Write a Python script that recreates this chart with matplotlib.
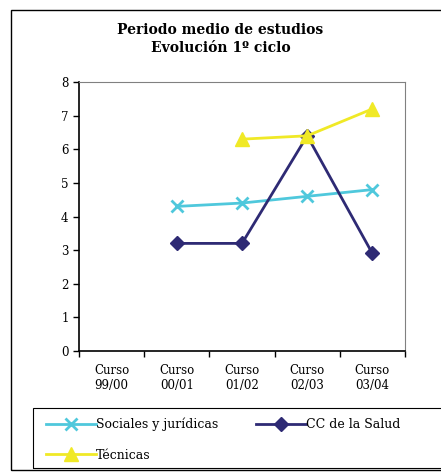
import matplotlib.pyplot as plt
import numpy as np
from matplotlib.patches import Rectangle

plt.rcParams['font.family'] = 'DejaVu Serif'
plt.rcParams['font.size'] = 8.5

categories = ['Curso\n99/00', 'Curso\n00/01', 'Curso\n01/02', 'Curso\n02/03', 'Curso\n03/04']
sociales = [np.nan, 4.3, 4.4, 4.6, 4.8]
salud = [np.nan, 3.2, 3.2, 6.4, 2.9]
tecnicas = [np.nan, np.nan, 6.3, 6.4, 7.2]

fig = plt.figure(figsize=(4.41, 4.74), dpi=100)
# outer chart border
fig.patches.append(Rectangle((11/441, 4/474), 1.2, 1 - 14/474, transform=fig.transFigure,
                             fill=False, edgecolor='black', linewidth=1.0))
# legend border
fig.patches.append(Rectangle((33/441, 6/474), 1.2, 60/474, transform=fig.transFigure,
                             fill=False, edgecolor='black', linewidth=0.8))

ax = fig.add_axes([79/441, 1 - 351/474, 326/441, 269/474])
x = np.arange(len(categories))
l1, = ax.plot(x, sociales, color='#4FC8DC', marker='x', markersize=8, markeredgewidth=2, linewidth=2, label='Sociales y jurídicas')
l2, = ax.plot(x, salud, color='#2E2A74', marker='D', markersize=7, linewidth=2, label='CC de la Salud')
l3, = ax.plot(x, tecnicas, color='#F0E926', marker='^', markersize=10, linewidth=2, label='Técnicas')

ax.set_xlim(-0.5, 4.5)
ax.set_ylim(0, 8)
ax.set_yticks(range(0, 9))
ax.set_xticks(np.arange(-0.5, 5, 1))
ax.set_xticklabels([])
ax.set_xticks(x, minor=True)
ax.set_xticklabels(categories, minor=True)
ax.tick_params(axis='x', which='minor', length=0, pad=9)
ax.tick_params(axis='both', which='major', direction='out', length=4, width=1)
ax.spines['left'].set_linewidth(1.2)
ax.spines['bottom'].set_linewidth(1.2)
ax.spines['top'].set_color('gray')
ax.spines['right'].set_color('gray')
ax.spines['top'].set_linewidth(0.8)
ax.spines['right'].set_linewidth(0.8)

fig.text(0.5, 1 - 39/474, 'Periodo medio de estudios\nEvolución 1º ciclo', ha='center', va='center',
         fontweight='bold', fontsize=10, linespacing=1.35)

leg = fig.legend([l1, l3, l2], [l1.get_label(), l3.get_label(), l2.get_label()],
                 loc='upper left', bbox_to_anchor=(42/441, 1 - 414/474), fontsize=9,
                 ncol=2, frameon=False, handlelength=4, columnspacing=3.0,
                 borderaxespad=0, handletextpad=0, labelspacing=1.4, borderpad=0.3)

plt.savefig('out.png', dpi=100)
